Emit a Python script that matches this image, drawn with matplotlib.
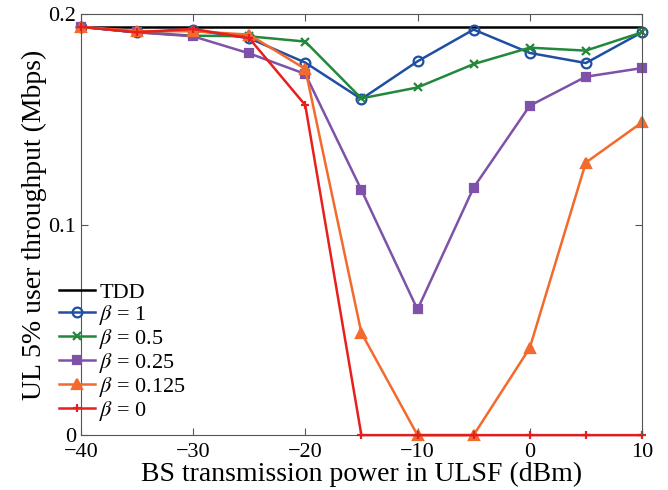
import matplotlib
matplotlib.use("Agg")
import matplotlib.pyplot as plt

plt.rcParams["font.family"] = ["Liberation Serif", "DejaVu Serif"]
plt.rcParams["mathtext.fontset"] = "stix"

power_dbm = [-40, -35, -30, -25, -20, -15, -10, -5, 0, 5, 10]
tdd = 0.194

beta_1 = [0.194, 0.1914, 0.1925, 0.1886, 0.177, 0.1597, 0.1776, 0.1927, 0.1816, 0.1768, 0.1914]
beta_05 = [0.194, 0.1914, 0.1898, 0.1895, 0.187, 0.160, 0.1652, 0.1763, 0.1841, 0.1827, 0.1914]
beta_025 = [0.194, 0.1914, 0.1895, 0.1814, 0.1716, 0.1165, 0.0597, 0.1176, 0.1565, 0.1703, 0.1744]
beta_0125 = [0.194, 0.192, 0.1919, 0.1903, 0.174, 0.0486, 0.0, 0.0, 0.0414, 0.1295, 0.1486]
beta_0 = [0.194, 0.1914, 0.193, 0.1886, 0.1568, 0.0, 0.0, 0.0, 0.0, 0.0, 0.0]

series = [
    (r"$\beta$ = 1", beta_1, "#1f4ea3", "o", "none"),
    (r"$\beta$ = 0.5", beta_05, "#23883a", "x", "full"),
    (r"$\beta$ = 0.25", beta_025, "#7d52a8", "s", "full"),
    (r"$\beta$ = 0.125", beta_0125, "#f26a2c", "^", "full"),
    (r"$\beta$ = 0", beta_0, "#e81f1f", "+", "full"),
]

fig = plt.figure(figsize=(6.68, 4.90), dpi=100)
ax = fig.add_axes([0.121, 0.112, 0.84, 0.859])

ax.plot([power_dbm[0], power_dbm[-1]], [tdd, tdd], color="black", lw=1.8, label="TDD")

for name, vals, col, mk, fill in series:
    ms = 7 if mk in ("o", "^") else 6
    ax.plot(power_dbm, vals, color=col, lw=1.8, marker=mk, ms=ms,
            fillstyle=fill, mew=1.6, label=name, clip_on=False)

ax.set_xlim(-40, 10)
ax.set_ylim(0, 0.2)
ax.set_xticks([-40, -30, -20, -10, 0, 10])
ax.set_yticks([0, 0.1, 0.2])
ax.set_yticklabels(["0", "0.1", "0.2"])
ax.tick_params(direction="in", top=True, right=True, labelsize=16,
               color="#555555", length=5)
ax.tick_params(axis="x", pad=5.5)
for sp in ax.spines.values():
    sp.set_color("#555555")

ax.set_xlabel("BS transmission power in ULSF (dBm)", fontsize=20, labelpad=0)
ax.set_ylabel("UL 5% user throughput (Mbps)", fontsize=20, labelpad=1)

ax.legend(loc="lower left", frameon=False, fontsize=16, handlelength=1.6,
          handletextpad=0.2, labelspacing=0.0, borderaxespad=0.3,
          bbox_to_anchor=(-0.066, -0.008))

fig.savefig("out.png", dpi=100)
